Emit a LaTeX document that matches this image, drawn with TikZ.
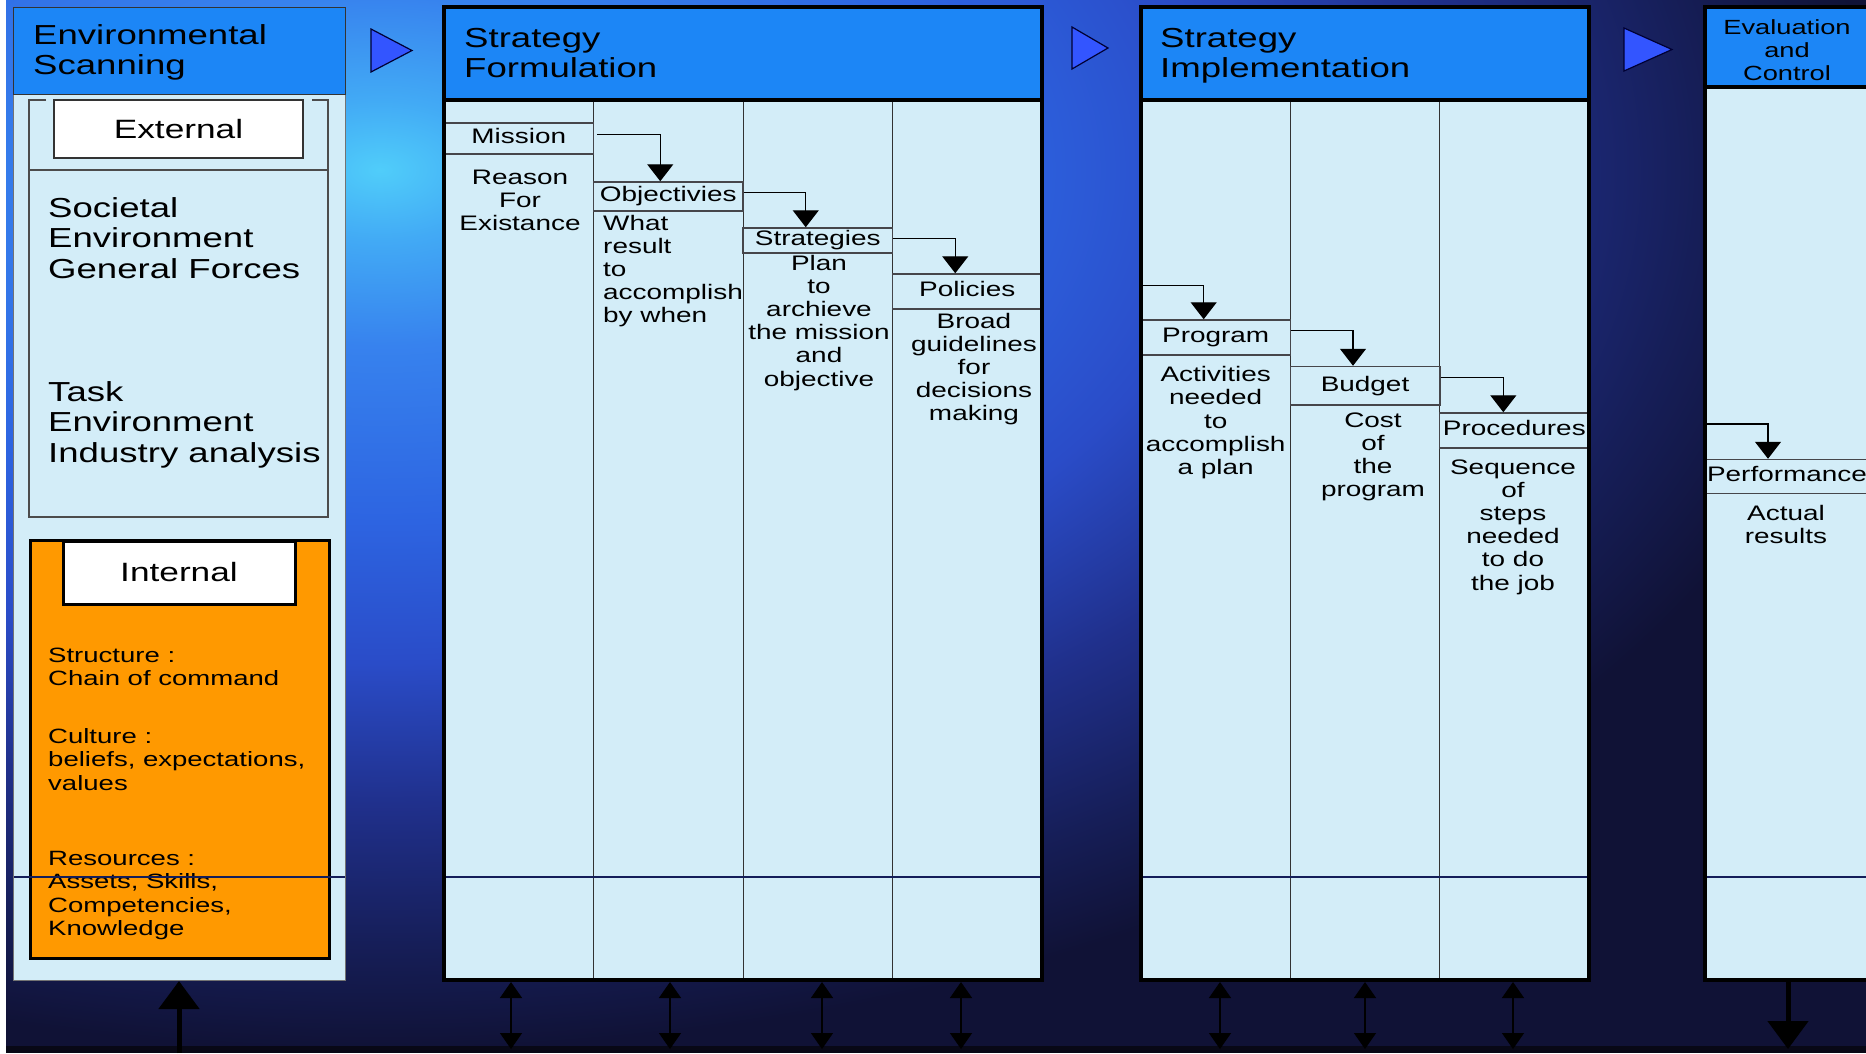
\documentclass[tikz,border=0pt]{standalone}
\usepackage{fontspec}
\setmainfont{Liberation Sans}[FakeStretch=1.33]
\usetikzlibrary{arrows.meta,calc}

\definecolor{hdrblue}{RGB}{28,134,246}
\definecolor{panel}{RGB}{211,237,248}
\definecolor{orangebox}{RGB}{255,153,0}
\definecolor{triblue}{RGB}{51,85,255}
\definecolor{navyline}{RGB}{20,30,90}
\definecolor{boxline}{RGB}{70,70,75}
\definecolor{ground}{RGB}{8,8,22}
\definecolor{g0}{RGB}{80,205,250}
\definecolor{g1}{RGB}{66,170,245}
\definecolor{g2}{RGB}{55,130,238}
\definecolor{g3}{RGB}{45,100,225}
\definecolor{g4}{RGB}{42,76,200}
\definecolor{g5}{RGB}{32,48,140}
\definecolor{g6}{RGB}{22,30,88}
\definecolor{g7}{RGB}{16,18,54}
\pgfdeclareradialshading{bgglow}{\pgfpoint{0bp}{0bp}}{color(0bp)=(g0); color(2bp)=(g1); color(5bp)=(g2); color(10bp)=(g3); color(14bp)=(g4); color(18bp)=(g5); color(22bp)=(g6); color(25bp)=(g7); color(50bp)=(g7)}

% stacked lines whose reference point is the first baseline
\newcommand{\txtstack}[2]{\begin{tabular}[t]{@{}#1@{}}#2\end{tabular}}

\tikzset{
  panelbox/.style={fill=panel, draw=none, inner sep=0pt, outer sep=0pt},
  hdrtxt/.style={font=\fontsize{27.5}{30.5}\selectfont, inner sep=0pt, anchor=base west},
  evaltxt/.style={font=\fontsize{20.5}{23}\selectfont, inner sep=0pt, anchor=base},
  bigtxt/.style={font=\fontsize{27.5}{30.5}\selectfont, inner sep=0pt, anchor=base west},
  coltxt/.style={font=\fontsize{21}{23.2}\selectfont, inner sep=0pt, anchor=base},
  inttxt/.style={font=\fontsize{20.7}{23.5}\selectfont, inner sep=0pt, anchor=base west},
  tagbox/.style={fill=white, font=\fontsize{26.5}{30}\selectfont, inner sep=0pt},
  lbl/.style={draw=boxline, line width=1.5pt, minimum width=149.5pt, inner sep=0pt,
    font=\fontsize{21}{23}\selectfont, text height=15.1pt, text depth=4.4pt},
  conn/.style={draw=black, line width=1.3pt, -{Triangle[width=26pt,length=17pt]}},
  dbl/.style={draw=black, line width=1.3pt,
    {Triangle[width=22pt,length=16pt]}-{Triangle[width=22pt,length=16pt]}},
  bigarrow/.style={draw=black, line width=5pt, -{Triangle[width=40pt,length=28pt]}},
  divider/.style={draw=black!80, line width=1pt},
  thickborder/.style={draw=black, line width=3.5pt},
  navyrule/.style={draw=navyline, line width=1.2pt},
  frameline/.style={draw=black!70, line width=1.3pt},
  playtri/.style={fill=triblue, draw=black!80!blue, line width=1.2pt, line join=miter},
}

\begin{document}
\begin{tikzpicture}[x=1pt,y=-1pt]
\useasboundingbox (0,0) rectangle (1866,1053);
\begin{scope}
\clip (0,0) rectangle (1866,1053);

% ---------- backdrop ----------
\fill[white] (0,0) rectangle (1866,1053);
\begin{scope}
  \clip (6,0) rectangle (1866,1053);
  \fill[g7] (6,0) rectangle (1866,1053);
  \shade[shading=bgglow] (380,170) ellipse [x radius=1500, y radius=880];
  \fill[ground] (6,1046) rectangle (1866,1053);
\end{scope}

% ---------- panels ----------
\node[panelbox, minimum width=332pt, minimum height=973pt, anchor=north west] (envp) at (13,7) {};
\node[panelbox, minimum width=598pt, minimum height=973pt, anchor=north west] (fp) at (444,7) {};
\node[panelbox, minimum width=448pt, minimum height=973pt, anchor=north west] (ip) at (1141,7) {};
\node[panelbox, minimum width=200pt, minimum height=973pt, anchor=north west] (ep) at (1705,7) {};

% header bands
\fill[hdrblue] (envp.north west) rectangle ($(envp.north east)+(0,87)$);
\fill[hdrblue] (fp.north west) rectangle ($(fp.north east)+(0,93)$);
\fill[hdrblue] (ip.north west) rectangle ($(ip.north east)+(0,93)$);
\fill[hdrblue] (ep.north west) rectangle ($(ep.north east)+(0,80)$);

% header titles
\node[hdrtxt] (envtitle) at (33,44) {\txtstack{l}{Environmental\\Scanning}};
\node[hdrtxt] (ftitle) at (464,47) {\txtstack{l}{Strategy\\Formulation}};
\node[hdrtxt] (ititle) at (1160,47) {\txtstack{l}{Strategy\\Implementation}};
\node[evaltxt] (etitle) at (1787,34) {\txtstack{c}{Evaluation\\and\\Control}};

% step markers between the stages
\draw[playtri] (371,29) -- (371,72) -- (412,50.5) -- cycle;
\draw[playtri] (1072,27) -- (1072,69) -- (1108,48) -- cycle;
\draw[playtri] (1624,28) -- (1624,71) -- (1672,49.5) -- cycle;

% ---------- environmental scanning ----------
\draw[frameline] (46,100) -- (29,100) -- (29,517) -- (328,517) -- (328,100) -- (312,100);
\draw[frameline] (29,170) -- (328,170);
\node[tagbox, draw=black!80, line width=1.2pt, minimum width=249pt, minimum height=58pt] (external) at (178.5,129) {External};
\node[bigtxt] (societal) at (48,217) {\txtstack{l}{Societal\\Environment\\General Forces}};
\node[bigtxt] (task) at (48,401) {\txtstack{l}{Task\\Environment\\Industry analysis}};

\node[fill=orangebox, draw=black, line width=3pt, inner sep=0pt, minimum width=299pt, minimum height=418pt, anchor=north west] (intbox) at (29,539) {};
\node[tagbox, draw=black, line width=3pt, minimum width=232pt, minimum height=63pt] (internal) at (179,572.5) {Internal};
\node[inttxt] (structure) at (48,662) {\txtstack{l}{Structure :\\Chain of command}};
\node[inttxt] (culture) at (48,743) {\txtstack{l}{Culture :\\beliefs, expectations,\\values}};
\node[inttxt] (resources) at (48,865) {\txtstack{l}{Resources :\\Assets, Skills,\\Competencies,\\Knowledge}};

% ---------- column rules ----------
\foreach \cx in {593.5,743,892.5} \draw[divider] (\cx,100) -- (\cx,980);
\foreach \cx in {1290.3,1439.7} \draw[divider] (\cx,100) -- (\cx,980);

% ---------- formulation steps ----------
\node[lbl, minimum height=31pt] (mission) at (518.75,138.5) {Mission};
\node[lbl, minimum height=29pt] (objectives) at (668.25,196.5) {Objectivies};
\node[lbl, minimum height=25pt] (strategies) at (817.75,240.5) {Strategies};
\node[lbl, minimum height=35pt] (policies) at (967.25,291.5) {Policies};

\node[coltxt] (missiontxt) at (520,184) {\txtstack{c}{Reason\\For\\Existance}};
\node[coltxt, anchor=base west] (objtxt) at (603,230) {\txtstack{l}{What\\result\\to\\accomplish\\by when}};
\node[coltxt] (strattxt) at (819,270) {\txtstack{c}{Plan\\to\\archieve\\the mission\\and\\objective}};
\node[coltxt] (poltxt) at (974,328) {\txtstack{c}{Broad\\guidelines\\for\\decisions\\making}};

\draw[conn] ($(mission.north east)+(3,12)$) -| ($(objectives.north)+(-8,0)$);
\draw[conn] ($(objectives.north east)+(0,11)$) -| ($(strategies.north)+(-12,0)$);
\draw[conn] ($(strategies.north east)+(0,11)$) -| ($(policies.north)+(-12,0)$);

% ---------- implementation steps ----------
\node[lbl, minimum height=35pt] (program) at (1215.67,337.5) {Program};
\node[lbl, minimum height=38.5pt] (budget) at (1365,385.75) {Budget};
\node[lbl, minimum height=35pt] (procedures) at (1514.33,430.5) {Procedures};

\node[coltxt] (progtxt) at (1215.67,381.6) {\txtstack{c}{Activities\\needed\\to\\accomplish\\a plan}};
\node[coltxt] (budgtxt) at (1373,427) {\txtstack{c}{Cost\\of\\the\\program}};
\node[coltxt] (proctxt) at (1513,474) {\txtstack{c}{Sequence\\of\\steps\\needed\\to do\\the job}};

\coordinate (implin) at (1141,285.5);
\draw[conn] (implin) -| ($(program.north)+(-12,0)$);
\draw[conn] ($(program.north east)+(0,11)$) -| ($(budget.north)+(-12,0)$);
\draw[conn] ($(budget.north east)+(0,11.5)$) -| ($(procedures.north)+(-11,0)$);

% ---------- evaluation ----------
\node[lbl, minimum width=164pt, minimum height=34pt] (performance) at (1787,476.5) {Performance};
\node[coltxt] (perftxt) at (1786,520) {\txtstack{c}{Actual\\results}};
\coordinate (evalin) at (1705,424);
\draw[conn] (evalin) -| ($(performance.north)+(-19,0)$);

% ---------- lower rule across the panels ----------
\draw[navyrule] (envp.west |- 0,877) -- (envp.east |- 0,877);
\draw[navyrule] (fp.west |- 0,877) -- (fp.east |- 0,877);
\draw[navyrule] (ip.west |- 0,877) -- (ip.east |- 0,877);
\draw[navyrule] (ep.west |- 0,877) -- (ep.east |- 0,877);

% ---------- panel outlines ----------
\draw[draw=black!55, line width=1pt] (envp.north west) rectangle (envp.south east);
\draw[draw=black!80, line width=1pt] (envp.north west) rectangle ($(envp.north east)+(0,87)$);
\draw[thickborder] (fp.north west) rectangle (fp.south east);
\draw[thickborder] ($(fp.north west)+(0,93)$) -- ($(fp.north east)+(0,93)$);
\draw[thickborder] (ip.north west) rectangle (ip.south east);
\draw[thickborder] ($(ip.north west)+(0,93)$) -- ($(ip.north east)+(0,93)$);
\draw[thickborder] (ep.south east) -- (ep.south west) -- (ep.north west) -- (ep.north east);
\draw[thickborder] ($(ep.north west)+(0,80)$) -- ($(ep.north east)+(0,80)$);

% ---------- links to the ground line ----------
\foreach \k/\ax in {f1/511,f2/670,f3/822,f4/961,i1/1220,i2/1365,i3/1513} {
  \coordinate (\k top) at (\ax,982);
  \coordinate (\k bot) at (\ax,1049);
  \draw[dbl] (\k top) -- (\k bot);
}
\coordinate (envfeed) at (179,1053);
\coordinate (envfeedtip) at (179,981);
\draw[bigarrow] (envfeed) -- (envfeedtip);
\coordinate (evalout) at (1788,978);
\coordinate (evalouttip) at (1788,1049);
\draw[bigarrow] (evalout) -- (evalouttip);

\end{scope}
\end{tikzpicture}
\end{document}
